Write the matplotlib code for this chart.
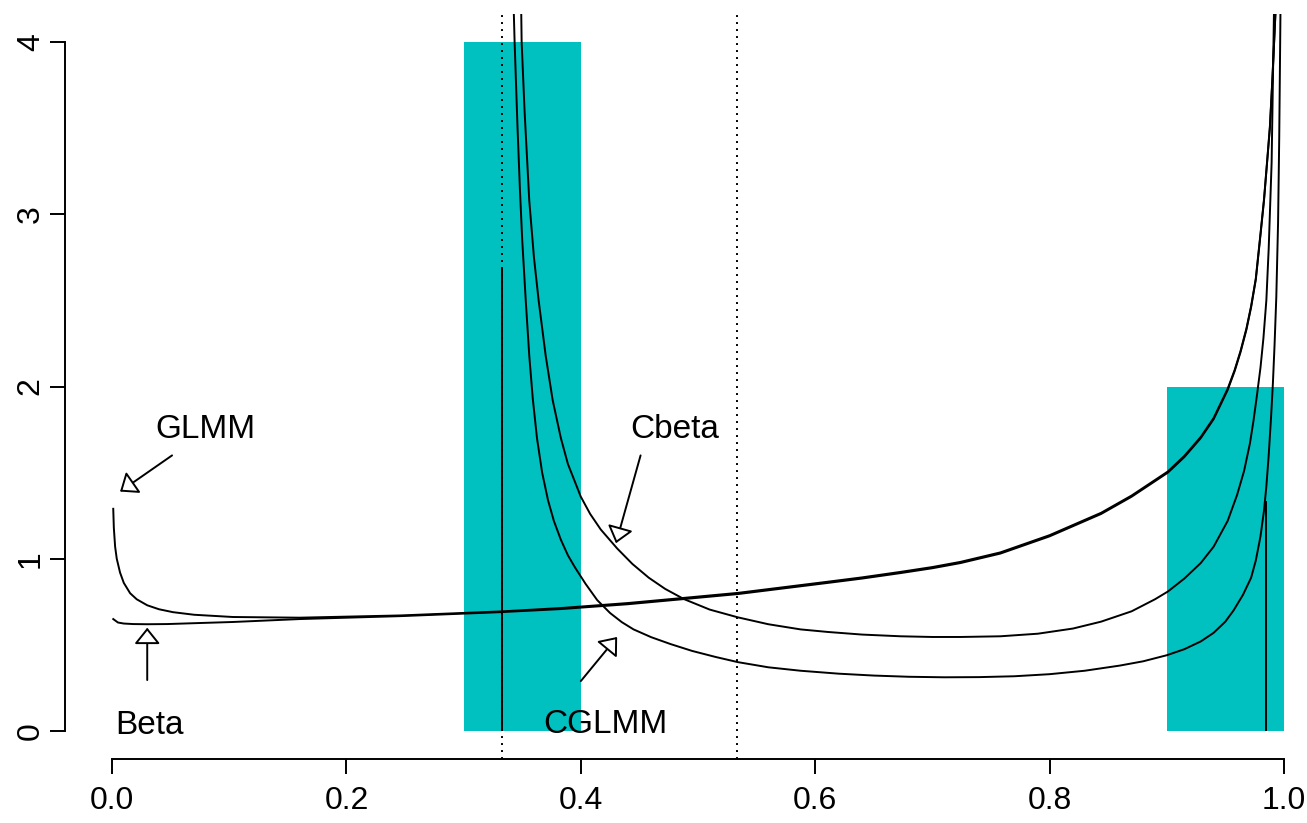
import matplotlib
matplotlib.use("Agg")
import matplotlib.pyplot as plt

plt.rcParams['font.family'] = ['Liberation Sans', 'DejaVu Sans']

# bars (histogram-like blocks)
bar_left = [0.3, 0.9]
bar_width = [0.1, 0.1]
bar_height = [4, 2]

# curves
glmm_x = [0.001, 0.0015, 0.0026, 0.004, 0.0068, 0.010, 0.0154, 0.021, 0.030, 0.040,
          0.052, 0.070, 0.103, 0.16, 0.246, 0.331, 0.383, 0.44, 0.488, 0.534,
          0.611, 0.64, 0.673, 0.70, 0.724, 0.758, 0.80, 0.844, 0.87, 0.901,
          0.915, 0.929, 0.94, 0.952, 0.958, 0.963, 0.968, 0.972, 0.976, 0.980,
          0.983, 0.986, 0.988, 0.990, 0.992, 0.993, 0.994]
glmm_y = [1.29, 1.18, 1.07, 1.00, 0.92, 0.86, 0.80, 0.765, 0.73, 0.707,
          0.69, 0.675, 0.662, 0.658, 0.671, 0.694, 0.714, 0.743, 0.773, 0.802,
          0.867, 0.892, 0.924, 0.952, 0.982, 1.037, 1.137, 1.267, 1.367, 1.507,
          1.597, 1.707, 1.817, 1.987, 2.097, 2.207, 2.337, 2.467, 2.627, 2.887,
          3.087, 3.337, 3.507, 3.767, 4.057, 4.207, 4.5]

beta_x = [0.001, 0.005, 0.010, 0.018, 0.030, 0.047, 0.070, 0.103, 0.16, 0.246,
          0.331, 0.383, 0.44, 0.488, 0.534, 0.611, 0.64, 0.673, 0.70, 0.724,
          0.758, 0.80, 0.844, 0.87, 0.901, 0.915, 0.929, 0.94, 0.952, 0.958,
          0.963, 0.968, 0.972, 0.976, 0.980, 0.983, 0.986, 0.988, 0.990, 0.992,
          0.993, 0.994]
beta_y = [0.65, 0.63, 0.624, 0.621, 0.620, 0.621, 0.626, 0.633, 0.65, 0.667,
          0.69, 0.708, 0.736, 0.766, 0.795, 0.86, 0.885, 0.917, 0.945, 0.975,
          1.03, 1.13, 1.26, 1.36, 1.50, 1.59, 1.70, 1.81, 1.98, 2.09,
          2.20, 2.33, 2.46, 2.62, 2.88, 3.08, 3.33, 3.50, 3.76, 4.05,
          4.20, 4.5]

cbeta_x = [0.3485, 0.3495, 0.352, 0.356, 0.360, 0.364, 0.370, 0.376, 0.383, 0.389,
           0.400, 0.408, 0.417, 0.431, 0.444, 0.458, 0.472, 0.488, 0.510, 0.534,
           0.560, 0.5875, 0.611, 0.640, 0.673, 0.700, 0.724, 0.758, 0.790, 0.820,
           0.844, 0.870, 0.890, 0.901, 0.915, 0.929, 0.940, 0.952, 0.960, 0.966,
           0.971, 0.974, 0.977, 0.980, 0.9825, 0.985, 0.987, 0.9895, 0.9915, 0.9925]
cbeta_y = [4.5, 4.0, 3.6, 3.08, 2.75, 2.50, 2.18, 1.92, 1.70, 1.55,
           1.36, 1.26, 1.17, 1.06, 0.97, 0.89, 0.825, 0.766, 0.705, 0.66,
           0.62, 0.59, 0.575, 0.56, 0.55, 0.546, 0.546, 0.55, 0.565, 0.595,
           0.635, 0.695, 0.765, 0.81, 0.885, 0.975, 1.07, 1.22, 1.37, 1.51,
           1.67, 1.80, 1.95, 2.11, 2.28, 2.50, 2.80, 3.30, 4.17, 4.6]

cglmm_x = [0.3415, 0.3435, 0.346, 0.348, 0.350, 0.353, 0.356, 0.359, 0.3626, 0.367,
           0.372, 0.377, 0.383, 0.389, 0.395, 0.404, 0.414, 0.425, 0.435, 0.445,
           0.460, 0.4765, 0.495, 0.515, 0.534, 0.560, 0.5875, 0.620, 0.650, 0.680,
           0.710, 0.740, 0.770, 0.800, 0.830, 0.860, 0.880, 0.900, 0.915, 0.929,
           0.940, 0.950, 0.957, 0.965, 0.972, 0.976, 0.980, 0.983, 0.985, 0.987,
           0.989, 0.9906, 0.992, 0.9935, 0.995, 0.996, 0.9968, 0.9975]
cglmm_y = [4.5, 4.0, 3.5, 3.15, 2.85, 2.50, 2.18, 1.93, 1.70, 1.50,
           1.34, 1.22, 1.11, 1.02, 0.95, 0.855, 0.76, 0.685, 0.632, 0.59,
           0.545, 0.505, 0.465, 0.43, 0.40, 0.37, 0.35, 0.333, 0.322, 0.315,
           0.312, 0.313, 0.318, 0.33, 0.35, 0.38, 0.405, 0.44, 0.475, 0.52,
           0.57, 0.635, 0.70, 0.79, 0.89, 0.99, 1.13, 1.28, 1.42, 1.60,
           1.82, 2.02, 2.24, 2.52, 2.95, 3.45, 4.0, 4.5]

# reference lines
dotted_x = [0.333, 0.533]
seg_x = [0.333, 0.985]
seg_top = [2.68, 1.335]

# labels: text, text position, arrow start, arrow tip
labels = ["GLMM", "Beta", "Cbeta", "CGLMM"]
label_xy = [(0.0795, 1.70), (0.0316, -0.02), (0.48, 1.70), (0.4206, -0.012)]
arrow_from = [(0.0512, 1.60), (0.030, 0.296), (0.451, 1.60), (0.400, 0.29)]
arrow_to = [(0.0068, 1.39), (0.030, 0.60), (0.430, 1.09), (0.431, 0.546)]

W, H = 1307, 823
fig = plt.figure(figsize=(W / 100, H / 100), dpi=100)
# plot region in pixels (R style 4% padding), right edge runs off the figure
left_px, right_px = 65.2, 1330.8
top_px, bottom_px = 14.4, 758.6
ax = fig.add_axes([left_px / W, 1 - bottom_px / H,
                   (right_px - left_px) / W, (bottom_px - top_px) / H])
ax.set_xlim(-0.04, 1.04)
ax.set_ylim(-0.16, 4.16)

teal = '#00C0C0'
ax.bar(bar_left, bar_height, width=bar_width, align='edge', color=teal,
       linewidth=0, zorder=1)

lw = 1.4
for xs, ys in [(glmm_x, glmm_y), (beta_x, beta_y), (cbeta_x, cbeta_y), (cglmm_x, cglmm_y)]:
    ax.plot(xs, ys, color='black', lw=lw, zorder=3)

for xv in dotted_x:
    ax.axvline(xv, color='black', lw=lw, linestyle=(0, (1, 2.6)), zorder=2)
ax.vlines(seg_x, 0, seg_top, color='black', lw=lw, zorder=3)

for lab, (tx, ty), a0, a1 in zip(labels, label_xy, arrow_from, arrow_to):
    ax.text(tx, ty, lab, ha='center', va='baseline', fontsize=24, zorder=4)
    ax.annotate('', xy=a1, xytext=a0,
                arrowprops=dict(arrowstyle='-|>,head_length=10,head_width=8',
                                mutation_scale=1, fc='white', ec='black', lw=lw,
                                shrinkA=0, shrinkB=0), zorder=4)

for s in ['top', 'right']:
    ax.spines[s].set_visible(False)
ax.spines['left'].set_bounds(0, 4)
ax.spines['bottom'].set_bounds(0, 1)
ax.spines['left'].set_linewidth(lw)
ax.spines['bottom'].set_linewidth(lw)

ax.set_xticks([0, 0.2, 0.4, 0.6, 0.8, 1.0])
ax.set_xticklabels(['0.0', '0.2', '0.4', '0.6', '0.8', '1.0'])
ax.set_yticks([0, 1, 2, 3, 4])
ax.set_yticklabels(['0', '1', '2', '3', '4'], rotation=90, va='center')
ax.tick_params(direction='out', length=11, width=lw, labelsize=23)
ax.tick_params(axis='x', pad=9)
ax.tick_params(axis='y', pad=3)

fig.savefig('out.png', dpi=100)
